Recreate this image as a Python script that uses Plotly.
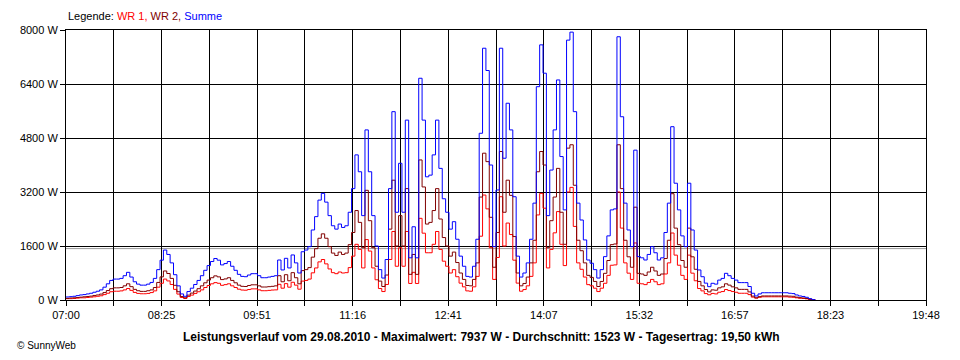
import pandas as pd
import plotly.graph_objects as go

# ---- data (W), sampled every 3 minutes starting 07:00 ----
start_time = "2010-08-29 07:00"
step = "3min"

summe = [90, 100, 110, 130, 150, 160, 180, 200, 230, 260, 300, 380, 480, 580, 620, 620, 640, 720, 820, 680,
         540, 470, 440, 440, 470, 520, 640, 900, 1180, 1480, 1350, 1100, 750, 420, 180, 110, 250, 350, 460, 580,
         720, 880, 1020, 1140, 1230, 1180, 1040, 1080, 1140, 1000, 880, 760, 700, 690, 740, 780, 780, 720, 660, 660,
         680, 700, 720, 1185, 890, 1235, 950, 1335, 1100, 800, 1430, 1480, 1580, 2075, 2470, 2960, 3160, 2900, 2500, 2200,
         2100, 2250, 2150, 2200, 2600, 3300, 4300, 3800, 2500, 5040, 3800, 2500, 1600, 900, 650, 1200, 3300, 5580, 2600, 4050,
         2600, 5330, 1250, 2170, 1250, 6570, 5330, 3650, 3700, 4300, 5330, 3900, 3000, 2600, 2100, 2320, 1800, 1300, 1000, 700,
         680, 1000, 1800, 4940, 7460, 6800, 4000, 1580, 3260, 7460, 4200, 5830, 5040, 3060, 1300, 680, 800, 1100, 1800, 2870,
         6320, 7560, 6720, 2500, 3850, 5040, 6520, 4250, 2670, 7700, 7937, 5580, 2870, 2370, 1780, 1185, 1090, 900, 650, 900,
         1285, 1900, 2670, 2700, 7800, 5430, 2870, 2075, 1580, 4440, 1285, 1250, 1185, 1350, 1580, 1400, 1185, 1250, 2000, 2870,
         5135, 3460, 2670, 1900, 1580, 3460, 2075, 1480, 890, 690, 500, 395, 495, 470, 590, 640, 790, 720, 640, 590,
         515, 515, 515, 400, 200, 120, 180, 215, 215, 215, 215, 215, 215, 215, 215, 200, 190, 150, 120, 105,
         80, 40, 10, 0]

wr2 = [50, 60, 65, 75, 85, 95, 105, 115, 135, 150, 175, 220, 280, 335, 360, 360, 370, 420, 480, 395,
       315, 275, 255, 255, 275, 300, 370, 520, 685, 860, 785, 640, 435, 245, 105, 65, 145, 205, 265, 335,
       420, 510, 590, 660, 715, 685, 605, 625, 660, 580, 510, 440, 405, 400, 430, 450, 450, 420, 385, 385,
       395, 405, 420, 720, 540, 750, 570, 810, 660, 480, 870, 900, 960, 1270, 1520, 1830, 1960, 1830, 1580, 1390,
       1320, 1420, 1350, 1390, 1640, 2000, 2650, 2300, 1550, 3250, 2350, 1550, 1000, 560, 400, 740, 2100, 3550, 1600, 2500,
       1600, 3300, 760, 1350, 760, 4150, 3350, 2250, 2300, 2650, 3300, 2400, 1850, 1600, 1300, 1420, 1110, 800, 610, 430,
       420, 610, 1100, 3050, 4350, 4100, 2450, 970, 2000, 4400, 2600, 3550, 3100, 1880, 800, 420, 490, 680, 1100, 1770,
       3800, 4400, 4000, 1550, 2350, 3050, 3900, 2600, 1650, 4500, 4600, 3400, 1770, 1460, 1100, 730, 670, 550, 400, 550,
       790, 1170, 1640, 1660, 4600, 3300, 1770, 1280, 970, 2750, 790, 770, 730, 830, 970, 860, 730, 770, 1230, 1770,
       3150, 2130, 1640, 1170, 970, 2130, 1280, 910, 550, 420, 310, 240, 300, 290, 360, 390, 480, 440, 390, 360,
       315, 315, 315, 240, 115, 65, 100, 120, 120, 120, 120, 120, 120, 120, 120, 115, 110, 85, 70, 60,
       45, 25, 5, 0]

wr1 = [40, 40, 45, 55, 65, 65, 75, 85, 95, 110, 125, 160, 200, 245, 260, 260, 270, 300, 340, 285,
       225, 195, 185, 185, 195, 220, 270, 380, 495, 620, 565, 460, 315, 175, 75, 45, 105, 145, 195, 245,
       300, 370, 430, 480, 515, 495, 435, 455, 480, 420, 370, 320, 295, 290, 310, 330, 330, 300, 275, 275,
       285, 295, 300, 465, 350, 485, 380, 525, 440, 320, 560, 580, 620, 805, 950, 1130, 1200, 1070, 920, 810,
       780, 830, 800, 810, 960, 1300, 1650, 1500, 950, 1790, 1450, 950, 600, 340, 250, 460, 1200, 2030, 1000, 1550,
       1000, 2030, 490, 820, 490, 2420, 1980, 1400, 1400, 1650, 2030, 1500, 1150, 1000, 800, 900, 690, 500, 390, 270,
       260, 390, 700, 1890, 3110, 2700, 1550, 610, 1260, 3060, 1600, 2280, 1940, 1180, 500, 260, 310, 420, 700, 1100,
       2520, 3160, 2720, 950, 1500, 1990, 2620, 1650, 1020, 3200, 3337, 2180, 1100, 910, 680, 455, 420, 350, 250, 350,
       495, 730, 1030, 1040, 3200, 2130, 1100, 795, 610, 1690, 495, 480, 455, 520, 610, 540, 455, 480, 770, 1100,
       1985, 1330, 1030, 730, 610, 1330, 795, 570, 340, 270, 190, 155, 195, 180, 230, 250, 310, 280, 250, 230,
       200, 200, 200, 160, 85, 55, 80, 95, 95, 95, 95, 95, 95, 95, 95, 85, 80, 65, 50, 45,
       35, 15, 5, 0]

x_labels = ["07:00", "08:25", "09:51", "11:16", "12:41", "14:07", "15:32", "16:57", "18:23", "19:48"]
y_ticks = [0, 1600, 3200, 4800, 6400, 8000]
durchschnitt = 1523
title_text = ("Leistungsverlauf vom 29.08.2010 - Maximalwert: 7937 W - Durchschnitt: 1523 W"
              " - Tagesertrag: 19,50 kWh")

# ---- build ----
t = pd.date_range(start_time, periods=len(summe), freq=step)
t0 = pd.Timestamp(start_time)
t_end = t0 + pd.Timedelta(minutes=768)
span = t_end - t0
n_grid = 2 * (len(x_labels) - 1)
grid_vals = [(t0 + span * i / n_grid).strftime("%Y-%m-%d %H:%M:%S") for i in range(n_grid + 1)]
grid_text = [x_labels[i // 2] if i % 2 == 0 else "" for i in range(n_grid + 1)]

FONT = "Liberation Sans, Arial, sans-serif"

# page body has an 8px default margin; figure laid out so plot area sits at 60..930 x 30..300
W, H = 944, 344
L, T, R, B = 52, 22, 22, 52
PW, PH = W - L - R, H - T - B


def py(ypix):  # screen pixel -> paper y
    return (H - B - (ypix - 8)) / PH


def px(xpix):  # screen pixel -> paper x
    return ((xpix - 8) - L) / PW


fig = go.Figure()
fig.add_trace(go.Scatter(x=t, y=wr1, mode="lines", name="WR 1",
                         line=dict(color="#ff0000", width=1, shape="hv")))
fig.add_trace(go.Scatter(x=t, y=wr2, mode="lines", name="WR 2",
                         line=dict(color="#800000", width=1, shape="hv")))
fig.add_trace(go.Scatter(x=t, y=summe, mode="lines", name="Summe",
                         line=dict(color="#0000ff", width=1, shape="hv")))

fig.add_shape(type="line", xref="paper", x0=0, x1=1, yref="y", y0=durchschnitt, y1=durchschnitt,
              line=dict(color="#999999", width=1), layer="below")

fig.update_layout(
    width=W, height=H,
    margin=dict(l=L, r=R, t=T, b=B),
    paper_bgcolor="white", plot_bgcolor="white",
    showlegend=False,
    font=dict(family=FONT, size=11, color="black"),
    xaxis=dict(
        type="date", range=[t0, t_end],
        tickmode="array", tickvals=grid_vals, ticktext=grid_text,
        showgrid=True, gridcolor="black", gridwidth=1,
        ticks="outside", ticklen=5, tickcolor="black", tickwidth=1,
        showline=True, linecolor="black", linewidth=1, mirror=True,
        zeroline=False, tickfont=dict(family=FONT, size=11, color="black"),
    ),
    yaxis=dict(
        range=[0, 8000],
        tickmode="array", tickvals=y_ticks, ticktext=[f"{v} W" for v in y_ticks],
        showgrid=True, gridcolor="black", gridwidth=1,
        ticks="outside", ticklen=5, tickcolor="black", tickwidth=1,
        showline=True, linecolor="black", linewidth=1, mirror=True,
        zeroline=False, tickfont=dict(family=FONT, size=11, color="black"),
    ),
    annotations=[
        dict(xref="paper", yref="paper", x=px(60), y=py(16), xanchor="left", yanchor="middle",
             showarrow=False, font=dict(family=FONT, size=11),
             text="Legende: <span style='color:#ff0000'>WR 1,</span> <span style='color:#800000'>WR 2,</span>"
                  " <span style='color:#0000ff'>Summe</span>"),
        dict(xref="paper", yref="paper", x=px(480), y=py(337),
             xanchor="center", yanchor="middle", showarrow=False,
             font=dict(family=FONT, size=12, color="black"), text="<b>" + title_text + "</b>"),
        dict(xref="paper", yref="paper", x=px(8), y=py(345.5),
             xanchor="left", yanchor="middle", showarrow=False,
             font=dict(family=FONT, size=10, color="black"), text="© SunnyWeb"),
    ],
)

fig.write_html("out.html")
